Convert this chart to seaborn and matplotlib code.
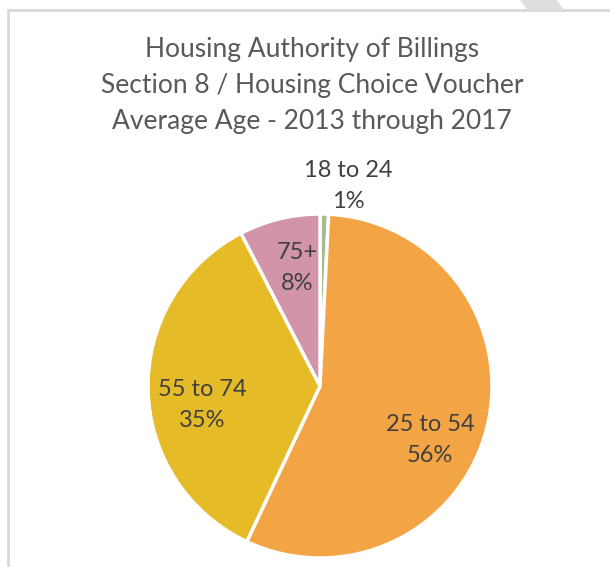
import matplotlib
matplotlib.use("Agg")
import matplotlib.pyplot as plt
from matplotlib.patches import Polygon, Rectangle
import seaborn as sns

# data
age_groups = ["18 to 24", "25 to 54", "55 to 74", "75+"]
shares = [0.8, 56.2, 35.4, 7.6]
pct_labels = ["1%", "56%", "35%", "8%"]
colors = ["#a5bd8e", "#f3a445", "#e5bb28", "#d194a9"]

# where each data label sits (pie radius = 1)
label_pos = [(0.163, 1.163), (0.64, -0.314), (-0.686, -0.11), (-0.134, 0.686)]

sns.set_theme(style="white")
plt.rcParams["font.family"] = ["Lato", "DejaVu Sans"]

W, H = 610, 567
fig = plt.figure(figsize=(W / 100, H / 100), dpi=100)

# chart frame (light grey border running off the right / bottom)
fig.patches.append(Rectangle((8 / W, -0.05), 1.1, 1 - 10 / H + 0.05, transform=fig.transFigure,
                             fill=False, edgecolor="#d9d9d9", linewidth=2))
fig.patches.append(Polygon([(520 / W, 1), (557 / W, 1), (563 / W, 1 - 9 / H), (527 / W, 1 - 9 / H)],
                           closed=True, transform=fig.transFigure, facecolor="#dedede", edgecolor="none"))

# pie centre at (320, 386) px, radius 172 px
cx, cy, r = 320, 386, 172
ax = fig.add_axes([(cx - r) / W, (H - cy - r) / H, 2 * r / W, 2 * r / H])
ax.pie(shares, colors=colors, startangle=90, counterclock=False, radius=1,
       wedgeprops=dict(edgecolor="white", linewidth=2.5))
ax.set_xlim(-1, 1)
ax.set_ylim(-1, 1)
ax.axis("off")

for name, pct, (x, y) in zip(age_groups, pct_labels, label_pos):
    ax.text(x, y, f"{name}\n{pct}", ha="center", va="center", fontsize=17,
            color="#404040", linespacing=1.55)

fig.text(312 / W, 1 - 86 / H,
         "Housing Authority of Billings\nSection 8 / Housing Choice Voucher\nAverage Age - 2013 through 2017",
         ha="center", va="center", fontsize=19, color="#595959", linespacing=1.55)

fig.savefig("out.png", dpi=100)
